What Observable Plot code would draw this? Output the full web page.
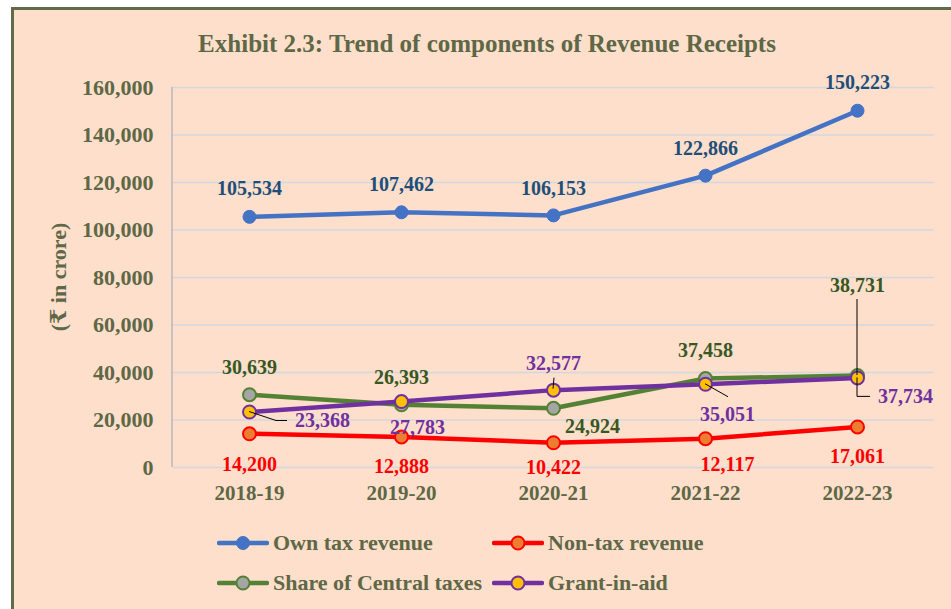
<!DOCTYPE html>
<html><head><meta charset="utf-8">
<script src="https://cdn.jsdelivr.net/npm/d3@7"></script>
<script src="https://cdn.jsdelivr.net/npm/@observablehq/plot@0.6"></script>
<style>
html,body{margin:0;padding:0;background:#fff;width:951px;height:609px;overflow:hidden}
body{position:relative;font-family:"Liberation Serif","Times New Roman","DejaVu Serif",serif;font-weight:bold;}
#frame{position:absolute;left:11px;top:7px;width:1000px;height:700px;border-left:3px solid #5F6B4A;border-top:3px solid #5F6B4A;background:#FDDFCB}
#title{position:absolute;left:0;top:30px;width:974px;text-align:center;font-size:25px;color:#5E6846;line-height:28px}
#chart{position:absolute;left:0;top:62px}
#ylabel{position:absolute;left:59px;top:277px;transform:translate(-50%,-50%) rotate(-90deg);font-size:22px;color:#5E6846;white-space:nowrap;line-height:24px}
.leg{position:absolute;display:flex;align-items:center;font-size:22px;color:#5E6846;white-space:nowrap;height:28px;line-height:28px}
.leg svg{margin-right:4px;display:block}
</style></head><body>
<div id="frame"></div>
<div id="title">Exhibit 2.3: Trend of components of Revenue Receipts</div>
<div id="ylabel">(₹ in crore)</div>
<div id="chart"></div>
<div id="legend"></div>
<script>
// ---- data ----
const years = ["2018-19", "2019-20", "2020-21", "2021-22", "2022-23"];
const ownTaxRevenue = [105534, 107462, 106153, 122866, 150223];
const nonTaxRevenue = [14200, 12888, 10422, 12117, 17061];
const shareOfCentralTaxes = [30639, 26393, 24924, 37458, 38731];
const grantInAid = [23368, 27783, 32577, 35051, 37734];
const seriesNames = ["Own tax revenue", "Non-tax revenue", "Share of Central taxes", "Grant-in-aid"];
const yTicks = [0, 20000, 40000, 60000, 80000, 100000, 120000, 140000, 160000];

// ---- styles ----
const olive = "#5E6846";
const fontFamily = '"Liberation Serif","Times New Roman","DejaVu Serif",serif';
const styles = [
  {line: "#4472C4", fill: "#4472C4", stroke: "#4472C4", label: "#1F4E79",
   off: [[0,-28],[0,-28],[0,-27],[0,-27],[0,-28]]},
  {line: "#FF0000", fill: "#ED7D31", stroke: "#FF0000", label: "#FF0000",
   off: [[0,31],[0,30],[0,25],[22,26],[0,30]]},
  {line: "#548235", fill: "#A5A5A5", stroke: "#548235", label: "#385723",
   off: [[0,-27],[0,-27],[39,18],[0,-28],[0,-90]]},
  {line: "#7030A0", fill: "#FFC000", stroke: "#7030A0", label: "#7030A0",
   off: [[73,9],[16,26],[0,-27],[22,30],[48,19]]}
];
// leader lines: [series, index, pixel path relative to point]
const leaders = [
  [3, 0, [[0,0],[27,9],[38,9]]],
  [3, 2, [[0,-1],[1,-12]]],
  [3, 3, [[0,0],[23,13]]],
  [3, 4, [[0,0],[0,19],[13,19]]],
  [2, 4, [[0,-76],[0,0]]]
];

const seriesValues = [ownTaxRevenue, nonTaxRevenue, shareOfCentralTaxes, grantInAid];
const fmt = d3.format(",");
const rows = seriesValues.map((vals, s) => years.map((yr, i) => ({series: seriesNames[s], year: yr, value: vals[i]})));

const marks = [
  Plot.ruleY(yTicks, {stroke: "#D2D8DE", strokeWidth: 1.5}),
  (index, scales, values, dim) => {
    const ns = "http://www.w3.org/2000/svg";
    const l = document.createElementNS(ns, "line");
    l.setAttribute("x1", dim.marginLeft); l.setAttribute("x2", dim.marginLeft);
    l.setAttribute("y1", dim.marginTop); l.setAttribute("y2", dim.height - dim.marginBottom);
    l.setAttribute("stroke", "#9AA3AD"); l.setAttribute("stroke-width", 1);
    return l;
  },
  Plot.axisY({ticks: yTicks, tickFormat: fmt, tickSize: 0, tickPadding: 19, fontSize: 22, fontWeight: "bold", fill: olive, label: null}),
  Plot.axisX({tickSize: 0, tickPadding: 18, fontSize: 21, fontWeight: "bold", fill: olive, label: null})
];
rows.forEach((data, s) => {
  marks.push(Plot.line(data, {x: "year", y: "value", stroke: styles[s].line, strokeWidth: 4.5, strokeLinejoin: "round", strokeLinecap: "round"}));
  marks.push(Plot.dot(data, {x: "year", y: "value", r: 6.5, fill: styles[s].fill, stroke: styles[s].stroke, strokeWidth: s === 0 ? 1 : 2}));
});
rows.forEach((data, s) => {
  data.forEach((d, i) => {
    marks.push(Plot.text([d], {x: "year", y: "value", text: dd => fmt(dd.value),
      dx: styles[s].off[i][0], dy: styles[s].off[i][1], fill: styles[s].label,
      fontSize: 20, fontWeight: "bold", textAnchor: "middle"}));
  });
});
marks.push((index, scales) => {
  const ns = "http://www.w3.org/2000/svg";
  const g = document.createElementNS(ns, "g");
  leaders.forEach(([s, i, pts]) => {
    const px = scales.x(years[i]), py = scales.y(seriesValues[s][i]);
    const p = document.createElementNS(ns, "path");
    p.setAttribute("d", pts.map((q, k) => (k ? "L" : "M") + (px + q[0]) + "," + (py + q[1])).join(""));
    p.setAttribute("fill", "none"); p.setAttribute("stroke", "#000"); p.setAttribute("stroke-width", 1);
    g.appendChild(p);
  });
  return g;
});

const chart = Plot.plot({
  width: 951, height: 450,
  marginTop: 25, marginBottom: 45, marginLeft: 172, marginRight: 17,
  style: {background: "transparent", fontFamily, overflow: "visible"},
  x: {type: "point", domain: years, padding: 0.5},
  y: {domain: [0, 160000]},
  marks
});
document.getElementById("chart").appendChild(chart);

// ---- legend ----
const legendPos = [[217, 529], [492, 529], [217, 569], [492, 569]];
const legend = document.getElementById("legend");
seriesNames.forEach((name, s) => {
  const div = document.createElement("div");
  div.className = "leg";
  div.style.left = legendPos[s][0] + "px";
  div.style.top = legendPos[s][1] + "px";
  div.innerHTML = `<svg width="52" height="20"><line x1="2" x2="50" y1="10" y2="10" stroke="${styles[s].line}" stroke-width="4.5" stroke-linecap="round"/><circle cx="26" cy="10" r="6.5" fill="${styles[s].fill}" stroke="${styles[s].stroke}" stroke-width="${s === 0 ? 1 : 2}"/></svg><span>${name}</span>`;
  legend.appendChild(div);
});
</script>
</body></html>
